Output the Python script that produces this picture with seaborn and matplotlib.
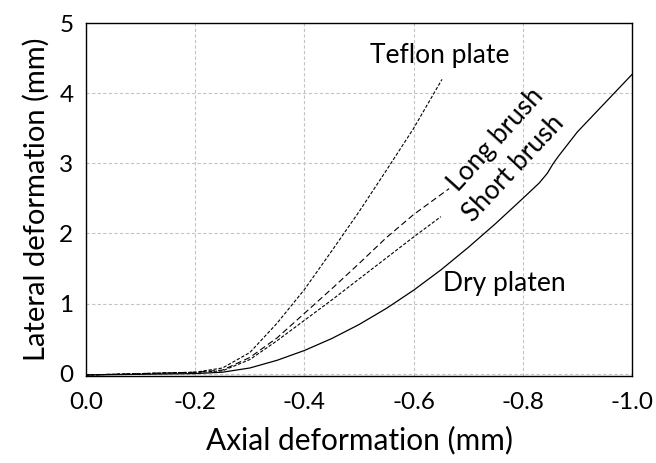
import matplotlib
matplotlib.use("Agg")
import matplotlib.pyplot as plt
import seaborn as sns
import pandas as pd

# ---- data ----
teflon_x = [0.0, -0.10, -0.20, -0.25, -0.30, -0.35, -0.40, -0.45, -0.50, -0.55, -0.60, -0.652]
teflon_y = [-0.02, 0.0, 0.02, 0.08, 0.30, 0.72, 1.20, 1.75, 2.31, 2.90, 3.50, 4.20]

long_x = [0.0, -0.10, -0.20, -0.25, -0.30, -0.35, -0.40, -0.45, -0.50, -0.55, -0.60, -0.665]
long_y = [-0.02, 0.0, 0.02, 0.05, 0.23, 0.51, 0.86, 1.21, 1.57, 1.94, 2.27, 2.64]

short_x = [0.0, -0.10, -0.20, -0.25, -0.30, -0.35, -0.40, -0.45, -0.50, -0.55, -0.60, -0.65]
short_y = [-0.02, 0.0, 0.015, 0.04, 0.20, 0.47, 0.76, 1.05, 1.35, 1.65, 1.95, 2.24]

dry_x = [0.0, -0.10, -0.20, -0.25, -0.30, -0.35, -0.40, -0.45, -0.50, -0.55, -0.60, -0.65, -0.70, -0.75, -0.80, -0.83, -0.845, -0.855, -0.865, -0.90, -0.95, -1.0]
dry_y = [-0.02, -0.01, 0.0, 0.02, 0.08, 0.19, 0.33, 0.50, 0.70, 0.93, 1.19, 1.48, 1.80, 2.14, 2.50, 2.72, 2.86, 2.99, 3.10, 3.45, 3.86, 4.27]

labels = ["Teflon plate", "Long brush", "Short brush", "Dry platen"]
x_ticks = [0.0, -0.2, -0.4, -0.6, -0.8, -1.0]
x_tick_labels = ["0.0", "-0.2", "-0.4", "-0.6", "-0.8", "-1.0"]
y_ticks = [0, 1, 2, 3, 4, 5]

sns.set_theme(style="white")
plt.rcParams["font.family"] = ["Lato", "DejaVu Sans"]
plt.rcParams["text.color"] = "black"
plt.rcParams["axes.labelcolor"] = "black"

fig = plt.figure(figsize=(6.56, 4.63), dpi=100)
ax = fig.add_axes([86 / 656, 1 - 375.7 / 463, (632 - 86) / 656, (375.7 - 23.3) / 463])

series = [
    (teflon_x, teflon_y, (0, (3.0, 1.6)), 0.8),
    (long_x, long_y, (0, (5.5, 3.0)), 0.8),
    (short_x, short_y, (0, (3.0, 1.6)), 0.8),
    (dry_x, dry_y, "-", 0.9),
]
for (xs, ys, ls, lw), name in zip(series, labels):
    df = pd.DataFrame({"x": xs, "y": ys})
    sns.lineplot(data=df, x="x", y="y", ax=ax, sort=False, color="black",
                 linestyle=ls, linewidth=lw, legend=False)

ax.set_xlim(0, -1.0)
ax.set_ylim(-0.03, 5.0)
ax.set_xticks(x_ticks)
ax.set_xticklabels(x_tick_labels)
ax.set_yticks(y_ticks)

ax.grid(True, color="#c4c4c4", linestyle=(0, (3, 2)), linewidth=0.8)
for s in ax.spines.values():
    s.set_color("black")
    s.set_linewidth(1.0)
    s.set_visible(True)

ax.tick_params(axis="both", length=0, labelsize=17.5, colors="black")
ax.tick_params(axis="x", pad=12)
ax.tick_params(axis="y", pad=9)

ax.set_xlabel("Axial deformation (mm)", fontsize=21.5, color="black", labelpad=9)
ax.set_ylabel("Lateral deformation (mm)", fontsize=21, color="black", labelpad=7)

def fpos(px, py):
    return (px / 656, 1 - py / 463)

fig.text(*fpos(440, 55), "Teflon plate", fontsize=19, ha="center", va="center")
fig.text(*fpos(496, 140), "Long brush", fontsize=19, ha="center", va="center", rotation=48, rotation_mode="anchor")
fig.text(*fpos(514, 168), "Short brush", fontsize=19, ha="center", va="center", rotation=47, rotation_mode="anchor")
fig.text(*fpos(504, 284), "Dry platen", fontsize=19, ha="center", va="center")

fig.savefig("out.png", dpi=100)
